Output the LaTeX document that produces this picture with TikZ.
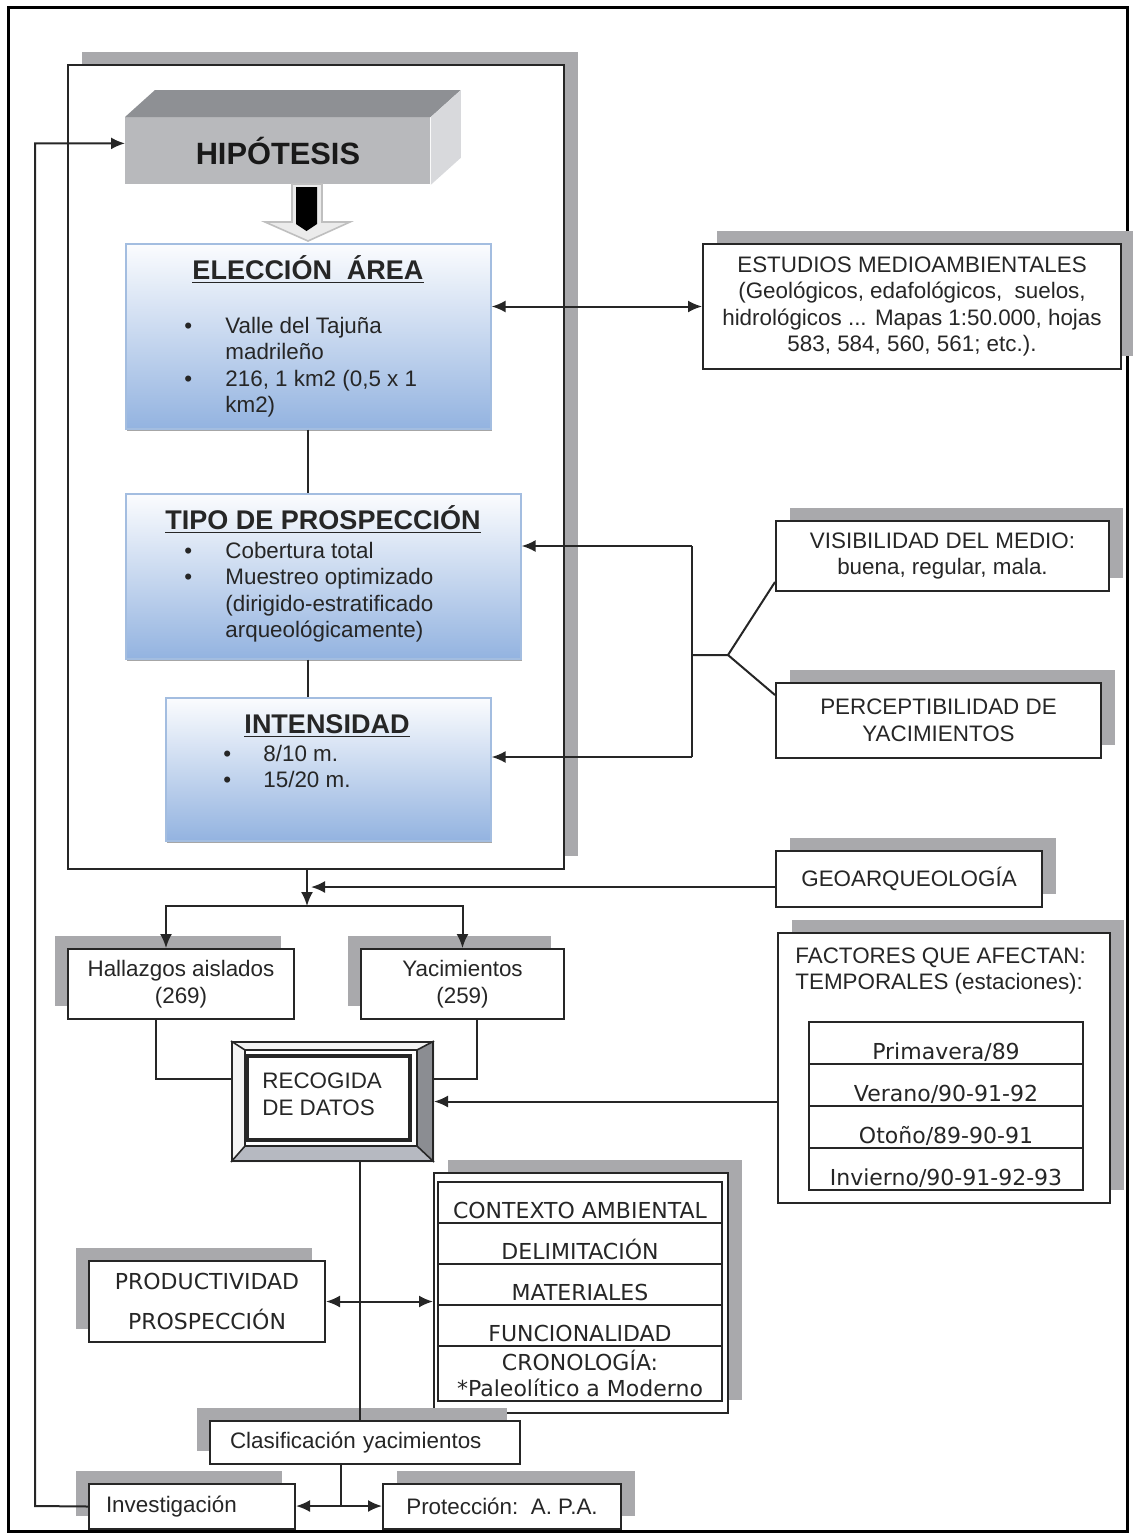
\documentclass[tikz,border=0pt]{standalone}
\usepackage{fontspec}
\setmainfont{Liberation Sans}
\newfontfamily\tabfont{DejaVu Sans}
\usepackage{tikz}
\usetikzlibrary{positioning,arrows.meta,shadows,backgrounds}
\usepackage{xcolor}
\definecolor{ink}{HTML}{262626}
\definecolor{shade}{HTML}{A9A9AC}
\definecolor{blueTop}{HTML}{FBFCFE}
\definecolor{blueBot}{HTML}{93B3E0}
\definecolor{blueEdge}{HTML}{A3BDE0}
\definecolor{hipoFront}{HTML}{B8B9BC}
\definecolor{hipoTop}{HTML}{8E9094}
\definecolor{hipoSide}{HTML}{D8D9DC}
\definecolor{bevelLight}{HTML}{F3F3F3}
\definecolor{bevelDark}{HTML}{8B8D92}
\definecolor{bevelMid}{HTML}{B6B9C1}
\newcommand{\bodyFont}{\fontsize{11.2}{13.3}\selectfont}
\newcommand{\titleFont}{\fontsize{13.5}{16}\selectfont\bfseries}
\newcommand{\tabFont}{\tabfont\fontsize{11}{13.3}\selectfont}

\begin{document}
\begin{tikzpicture}[
    x=0.5pt, y=-0.5pt, font=\bodyFont, text=ink,
    plainBox/.style={draw=ink, line width=1pt, fill=white, align=center, inner sep=2pt},
    shadowRight/.style={general shadow={fill=shade, shadow xshift=7pt, shadow yshift=6.5pt}},
    shadowLeft/.style={general shadow={fill=shade, shadow xshift=-6.5pt, shadow yshift=6.5pt}},
    blueCard/.style={draw=blueEdge, line width=0.8pt, top color=blueTop, bottom color=blueBot, general shadow={fill=black!35, shadow xshift=0.8pt, shadow yshift=-1pt}},
    cellBox/.style={draw=ink, line width=0.8pt, fill=white, outer sep=0pt, inner sep=1pt, font=\tabFont},
    lowText/.style={text height=16pt, text depth=0pt},
    seasonCell/.style={cellBox, lowText, minimum width=137pt, minimum height=21pt},
    ctxCell/.style={cellBox, minimum width=142pt, minimum height=20.5pt},
    arrowStyle/.style={-{Latex[length=7pt,width=6pt]}, line width=1pt, draw=ink},
    dblArrow/.style={{Latex[length=7pt,width=6pt]}-{Latex[length=7pt,width=6pt]}, line width=1pt, draw=ink},
    link/.style={line width=1pt, draw=ink}
]
    \useasboundingbox (0,0) rectangle (1133,1537);
    \draw[line width=1.5pt, black] (8,7) rectangle (1127,1531);

    % big frame round the first steps
    \node[plainBox, shadowRight, minimum width=248pt, minimum height=402pt, anchor=north west] (frame) at (67,64) {};

    \node[fill=hipoFront, minimum width=152.5pt, minimum height=33.5pt, anchor=north west, inner sep=0pt, font=\fontsize{15.4}{18}\selectfont\bfseries, text=black!90] (hipo) at (125,117) {HIPÓTESIS};
    \fill[hipoTop] (hipo.north west) -- ++(15pt,13.5pt) -- ([shift={(15pt,13.5pt)}]hipo.north east) -- (hipo.north east) -- cycle;
    \fill[hipoSide] (hipo.north east) -- ++(15pt,13.5pt) -- ([shift={(15pt,13.5pt)}]hipo.south east) -- (hipo.south east) -- cycle;

    % block arrow
    \filldraw[fill=black!8, draw=black!25, line width=0.8pt] (292,184) -- (322,184) -- (322,222) -- (350,222) -- (308,241) -- (265,222) -- (292,222) -- cycle;
    \fill[black] (296,187) -- (317,187) -- (317,224) -- (306.5,231) -- (296,224) -- cycle;

    \node[blueCard, minimum width=182.5pt, minimum height=92.5pt, anchor=north west] (elec) at (125,243) {};
    \node[font=\titleFont, anchor=base] (elecTitle) at (308,279) {\underline{ELECCIÓN\ \ ÁREA}};
    \node[anchor=base west, inner sep=0pt] (elecList) at (184,333) {\begin{tabular}[t]{@{}p{20.5pt}@{}l@{}}
        \textbullet & Valle del Tajuña\\
                    & madrileño\\
        \textbullet & 216, 1 km2 (0,5 x 1\\
                    & km2)
    \end{tabular}};

    \node[blueCard, minimum width=197.5pt, minimum height=82.5pt, anchor=north west] (tipo) at (125,493) {};
    \node[font=\titleFont, anchor=base] (tipoTitle) at (323,529) {\underline{TIPO DE PROSPECCIÓN}};
    \node[anchor=base west, inner sep=0pt] (tipoList) at (184,558) {\begin{tabular}[t]{@{}p{20.5pt}@{}l@{}}
        \textbullet & Cobertura total\\
        \textbullet & Muestreo optimizado\\
                    & (dirigido-estratificado\\
                    & arqueológicamente)
    \end{tabular}};

    \node[blueCard, minimum width=162.5pt, minimum height=71.5pt, anchor=north west] (inten) at (165,697) {};
    \node[font=\titleFont, anchor=base] (intenTitle) at (327,733) {\underline{INTENSIDAD}};
    \node[anchor=base west, inner sep=0pt] (intenList) at (223,761) {\begin{tabular}[t]{@{}p{20pt}@{}l@{}}
        \textbullet & 8/10 m.\\
        \textbullet & 15/20 m.
    \end{tabular}};

    \draw[link] (elec.south) -- (elec.south |- tipo.north);
    \draw[link] (tipo.south -| elec.south) -- (inten.north -| elec.south);

    % right column
    \node[plainBox, shadowRight, minimum width=209pt, minimum height=62.5pt, anchor=north west] (estud) at (702,243) {ESTUDIOS MEDIOAMBIENTALES\\(Geológicos, edafológicos,\ \ suelos,\\hidrológicos ... Mapas 1:50.000, hojas\\583, 584, 560, 561; etc.).};
    \draw[dblArrow] (estud.west) -- (estud.west -| elec.east);

    \node[plainBox, shadowRight, minimum width=166.5pt, minimum height=35pt, anchor=north west] (visib) at (775,520) {VISIBILIDAD DEL MEDIO:\\buena, regular, mala.};
    \node[plainBox, shadowRight, minimum width=162.5pt, minimum height=37.5pt, anchor=north west] (percep) at (775,682) {PERCEPTIBILIDAD DE\\YACIMIENTOS};

    \coordinate (brTop) at (692,546);
    \coordinate (brBot) at (692,757);
    \coordinate (brMid) at (692,655);
    \coordinate (brFork) at (728,655);
    \draw[link] (brTop) -- (brBot);
    \draw[arrowStyle] (brTop) -- (brTop -| tipo.east);
    \draw[arrowStyle] (brBot) -- (brBot -| inten.east);
    \draw[link] (brMid) -- (brFork) -- ([yshift=5pt]visib.south west);
    \draw[link] (brFork) -- ([yshift=-6.5pt]percep.north west);

    % results
    \node[plainBox, shadowRight, minimum width=133pt, minimum height=28pt, anchor=north west] (geo) at (775,850) {GEOARQUEOLOGÍA};
    \node[plainBox, shadowLeft, minimum width=113pt, minimum height=35pt, anchor=north west] (hallaz) at (67,948) {Hallazgos aislados\\(269)};
    \node[plainBox, shadowLeft, minimum width=101.5pt, minimum height=35pt, anchor=north west] (yacim) at (360,948) {Yacimientos\\(259)};

    \coordinate (splitTop) at (307,868);
    \coordinate (splitMid) at (307,906);
    \coordinate (geoIn) at (311,887);
    \draw[arrowStyle] (splitTop) -- (splitMid);
    \draw[arrowStyle] (geo.west |- geoIn) -- (geoIn);
    \draw[arrowStyle] (splitMid) -| ([xshift=-7.5pt]hallaz.north);
    \draw[arrowStyle] (splitMid) -| (yacim.north);

    \node[draw=ink, line width=1pt, minimum width=100.5pt, minimum height=59.5pt, anchor=north west, inner sep=0pt] (recog) at (231,1041) {};
    \begin{scope}[on background layer]
        \fill[bevelLight] (recog.north west) -- (recog.north east) -- (417,1050) -- (245,1050) -- (245,1146) -- (recog.south west) -- cycle;
        \fill[bevelDark] (recog.north east) -- (recog.south east) -- (417,1146) -- (417,1050) -- cycle;
        \fill[bevelMid] (recog.south west) -- (245,1146) -- (417,1146) -- (recog.south east) -- cycle;
    \end{scope}
    \draw[ink, line width=0.8pt] (recog.north west) -- (245,1050) (recog.north east) -- (417,1050)
        (recog.south west) -- (245,1146) (recog.south east) -- (417,1146);
    \draw[ink, line width=0.8pt] (245,1050) rectangle (417,1146);
    \draw[ink, line width=1.6pt] (247,1056) rectangle (410,1140);
    \node[align=left, anchor=west, inner sep=0pt] (recogText) at (262,1094) {RECOGIDA\\DE DATOS};

    \draw[link] ([xshift=-12.5pt]hallaz.south) |- ([yshift=11.5pt]recog.west);
    \draw[link] ([xshift=7pt]yacim.south) |- ([yshift=11.5pt]recog.east);

    \node[plainBox, shadowRight, minimum width=166pt, minimum height=135pt, anchor=north west] (factor) at (777,932) {};
    \node[anchor=north west, align=left, inner sep=0pt] (factorText) at (795,947) {FACTORES QUE AFECTAN:\\TEMPORALES (estaciones):};
    \node[seasonCell, anchor=north west] (seas1) at (809,1022) {Primavera/89};
    \node[seasonCell, below=0pt of seas1] (seas2) {Verano/90-91-92};
    \node[seasonCell, below=0pt of seas2] (seas3) {Otoño/89-90-91};
    \node[seasonCell, below=0pt of seas3] (seas4) {Invierno/90-91-92-93};
    \draw[arrowStyle] (factor.west |- recog.east) -- (recog.east);

    \node[plainBox, shadowRight, minimum width=147pt, minimum height=120pt, anchor=north west] (ctxBox) at (433,1172) {};
    \node[ctxCell, lowText, anchor=north west] (ctx1) at (438,1182) {CONTEXTO AMBIENTAL};
    \node[ctxCell, lowText, below=0pt of ctx1] (ctx2) {DELIMITACIÓN};
    \node[ctxCell, lowText, below=0pt of ctx2] (ctx3) {MATERIALES};
    \node[ctxCell, lowText, below=0pt of ctx3] (ctx4) {FUNCIONALIDAD};
    \node[ctxCell, below=0pt of ctx4, minimum height=27.5pt, align=center] (ctx5) {CRONOLOGÍA:\\*Paleolítico a Moderno};

    \node[plainBox, shadowLeft, minimum width=118pt, minimum height=40.5pt, anchor=north west, font=\tabFont] (produc) at (88,1260) {PRODUCTIVIDAD\\[6.7pt]PROSPECCIÓN};

    \coordinate (trunkTop) at (360,1160);
    \node[plainBox, shadowLeft, minimum width=155pt, minimum height=21.5pt, anchor=north west, text width=135pt, align=left] (clasif) at (209,1420) {Clasificación yacimientos};
    \draw[link] (trunkTop) -- (trunkTop |- clasif.north);
    \draw[dblArrow] (produc.east) -- (produc.east -| ctxBox.west);

    \node[plainBox, shadowLeft, minimum width=103pt, minimum height=22.5pt, anchor=north west, text width=86pt, align=left] (invest) at (88,1483) {Investigación};
    \node[plainBox, shadowRight, minimum width=119pt, minimum height=22.5pt, anchor=north west] (protec) at (382,1483) {Protección:\ \ A. P.A.};

    \coordinate (clasifFoot) at (341,1506);
    \draw[link] (clasif.south -| clasifFoot) -- (clasifFoot);
    \draw[arrowStyle] (clasifFoot) -- (clasifFoot -| invest.east);
    \draw[arrowStyle] (clasifFoot) -- (clasifFoot -| protec.west);

    % loop back to the hypothesis
    \coordinate (backCorner) at (35,1506);
    \draw[arrowStyle] (invest.west) -- (backCorner) |- ([yshift=3.75pt]hipo.west);
\end{tikzpicture}
\end{document}
